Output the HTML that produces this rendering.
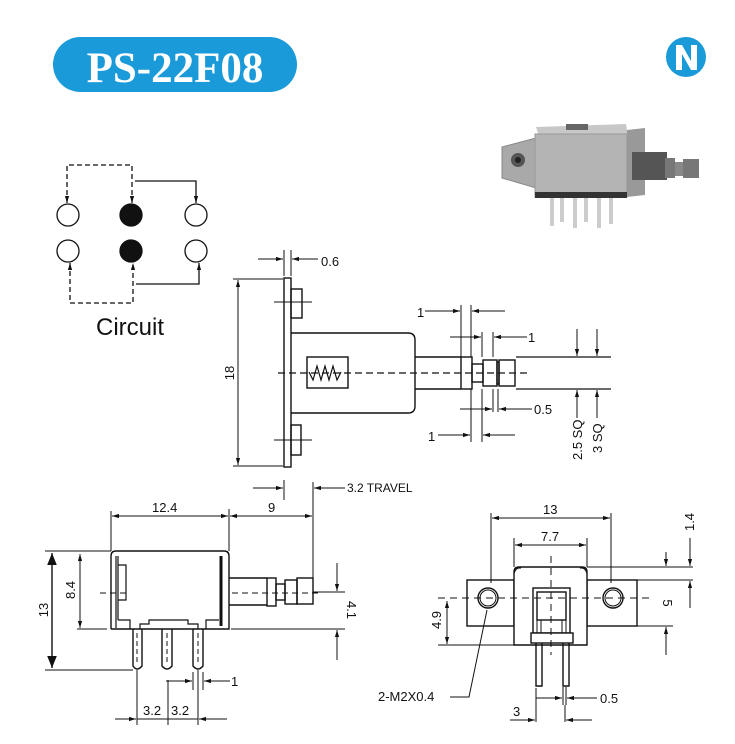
<!DOCTYPE html>
<html><head><meta charset="utf-8"><style>
html,body{margin:0;padding:0;background:#fff}
svg{display:block}
text{font-family:"Liberation Sans",sans-serif;fill:#111}
</style></head><body>
<svg width="735" height="744" viewBox="0 0 735 744" xmlns="http://www.w3.org/2000/svg">
<defs>
<marker id="a" viewBox="0 0 10 10" refX="10" refY="5" markerWidth="7" markerHeight="7" orient="auto-start-reverse" markerUnits="userSpaceOnUse"><path d="M0,2 L10,5 L0,8 z" fill="#111"/></marker>
<marker id="b" viewBox="0 0 10 10" refX="10" refY="5" markerWidth="12" markerHeight="12" orient="auto-start-reverse" markerUnits="userSpaceOnUse"><path d="M0,1 L10,5 L0,9 z" fill="#111"/></marker>
</defs>
<rect width="735" height="744" fill="#fff"/>
<!-- header -->
<rect x="53" y="37" width="244" height="55" rx="27.5" fill="#1a9ad8"/>
<text x="175" y="82" text-anchor="middle" style="font-family:'Liberation Serif',serif;font-weight:bold;font-size:43px;fill:#fff">PS-22F08</text>
<circle cx="686" cy="57" r="20" fill="#1a9ad8"/>
<path d="M676,70 V45 H682 L691,61 V45 H697 V70 H691 L682,54 V70 Z" fill="#fff"/>
<!-- photo -->
<g>
<path d="M502,147 L536,138 L536,188 L502,178 Z" fill="#a9a9a9" stroke="#888"/>
<circle cx="518" cy="160" r="7" fill="#555"/><circle cx="518" cy="160" r="3" fill="#222"/>
<path d="M536,127 L626,124 L628,135 L540,140 Z" fill="#c8c8c8"/>
<rect x="566" y="124" width="22" height="6" fill="#666"/>
<rect x="535" y="134" width="92" height="63" fill="#b4b4b4" stroke="#999"/>
<path d="M627,130 L645,128 L645,195 L627,197 Z" fill="#999"/>
<rect x="632" y="152" width="35" height="28" fill="#555"/>
<rect x="665" y="158" width="10" height="20" fill="#777"/>
<rect x="675" y="162" width="8" height="14" fill="#888"/>
<rect x="683" y="159" width="16" height="19" fill="#777"/>
<rect x="535" y="192" width="92" height="6" fill="#333"/>
<g fill="#ccc"><rect x="550" y="198" width="4" height="28"/><rect x="560" y="198" width="4" height="24"/><rect x="573" y="198" width="4" height="30"/><rect x="584" y="198" width="4" height="24"/><rect x="597" y="198" width="4" height="30"/><rect x="609" y="198" width="4" height="26"/></g>
</g>
<!-- circuit -->
<g stroke="#111" stroke-width="1.3" fill="none">
<circle cx="68" cy="215" r="11"/><circle cx="196" cy="215" r="11"/>
<circle cx="68" cy="251" r="11"/><circle cx="196" cy="251" r="11"/>
<circle cx="131" cy="215" r="11" fill="#111"/><circle cx="131" cy="251" r="11" fill="#111"/>
<path d="M67,203 V165 H132 V203" stroke-dasharray="5,3" marker-start="url(#a)" marker-end="url(#a)"/>
<path d="M135,181 H196 V203" marker-end="url(#a)"/>
<path d="M70,263 V303 H133 V263" stroke-dasharray="5,3" marker-start="url(#a)" marker-end="url(#a)"/>
<path d="M136,284 H199 V263" marker-end="url(#a)"/>
</g>
<text x="96" y="335" style="font-size:24px">Circuit</text>

<!-- side view -->
<g stroke="#111" stroke-width="1.4" fill="none">
<rect x="284" y="278" width="7" height="189"/>
<rect x="291" y="289" width="11" height="29"/>
<rect x="291" y="425" width="10" height="30"/>
<path d="M274,302 H312 M274,440 H312" stroke-width="1"/>
<path d="M291,333 H408 Q415,333 415,340 V406 Q415,413 408,413 H291"/>
<rect x="307" y="357" width="41" height="31"/>
<path d="M309,372 l4,8 l4,-14 l4,14 l4,-14 l4,14 l4,-14 l4,14 l4,-8" stroke-width="1.2"/>
<path d="M415,357 H461 M415,389 H461"/>
<rect x="461" y="357" width="11" height="32"/>
<rect x="472" y="364" width="11" height="18"/>
<rect x="483" y="360" width="14" height="26"/>
<rect x="497" y="362" width="2" height="22"/>
<rect x="499" y="360" width="16" height="26"/>
<path d="M516,357 H611 M516,389 H611" stroke-width="1.2"/>
<path d="M278,373 H528" stroke-dasharray="7,4" stroke-width="1.2"/>
<g stroke-width="1">
<path d="M284,250 V276 M291,250 V276"/>
<path d="M258,259 H283" marker-end="url(#a)"/><path d="M318,259 H292" marker-end="url(#a)"/>
<path d="M233,279 H283 M233,466 H283"/>
<path d="M238,280 V465" marker-start="url(#a)" marker-end="url(#a)"/>
<path d="M461,305 V357 M471,305 V357"/>
<path d="M425,311 H460" marker-end="url(#a)"/><path d="M505,311 H472" marker-end="url(#a)"/>
<path d="M482,332 V357 M493,332 V357"/>
<path d="M450,337 H481" marker-end="url(#a)"/><path d="M527,337 H494" marker-end="url(#a)"/>
<path d="M493,389 V412 M498,389 V412"/>
<path d="M460,409 H492" marker-end="url(#a)"/><path d="M532,409 H499" marker-end="url(#a)"/>
<path d="M471,389 V442 M482,389 V442"/>
<path d="M438,435 H470" marker-end="url(#a)"/><path d="M515,435 H483" marker-end="url(#a)"/>
<path d="M577,329 V356" marker-end="url(#a)"/><path d="M577,418 V390" marker-end="url(#a)"/>
<path d="M597,329 V356" marker-end="url(#a)"/><path d="M597,418 V390" marker-end="url(#a)"/>
</g>
</g>
<text x="321" y="266" style="font-size:13px">0.6</text>
<text transform="translate(234,373) rotate(-90)" text-anchor="middle" style="font-size:13px">18</text>
<text x="417" y="317" style="font-size:13px">1</text>
<text x="528" y="342" style="font-size:13px">1</text>
<text x="534" y="414" style="font-size:13px">0.5</text>
<text x="428" y="441" style="font-size:13px">1</text>
<text transform="translate(582,460) rotate(-90)" style="font-size:13px">2.5 SQ</text>
<text transform="translate(602,453) rotate(-90)" style="font-size:13px">3 SQ</text>

<!-- bottom-left front view -->
<g stroke="#111" stroke-width="1.4" fill="none">
<path d="M111,629 V556 Q111,551 116,551 H224 Q229,551 229,556 V629 H111"/>
<path d="M116,628 V556 M118,556 V620 M118,565 H126 V600 H118" stroke-width="1.2"/>
<path d="M221,556 V626" stroke-width="3"/>
<path d="M118,620 H130 V629 M140,629 V624 H149 V620 H188 V624 H198 V629 M206,629 V620 H219" stroke-width="1.2"/>
<path d="M133,629 V666 Q137,672 142,666 V629 M162,629 V666 Q167,672 172,666 V629 M193,629 V666 Q198,672 203,666 V629"/>
<path d="M137,633 V664 M167,633 V664 M198,633 V664" stroke-dasharray="5,3" stroke-width="1"/>
<path d="M229,578 H267 M229,605 H267"/>
<rect x="267" y="578" width="9" height="28"/>
<rect x="276" y="584" width="9" height="16"/>
<rect x="285" y="580" width="12" height="24"/>
<rect x="297" y="578" width="16" height="26"/>
<path d="M100,593 H130 M232,593 H320" stroke-dasharray="6,4" stroke-width="1.1"/>
<g stroke-width="1">
<path d="M111,511 V551 M229,509 V551 M313,482 V578 M284,480 V500"/>
<path d="M112,516 H228" marker-start="url(#a)" marker-end="url(#a)"/>
<path d="M230,516 H312" marker-start="url(#a)" marker-end="url(#a)"/>
<path d="M253,488 H283" marker-end="url(#a)"/><path d="M345,488 H314" marker-end="url(#a)"/>
<path d="M45,551 H111 M45,670 H133"/>
<path d="M52,553 V668" marker-start="url(#b)" marker-end="url(#b)" stroke-width="1.4"/>
<path d="M77,629 H107"/>
<path d="M80,554 V628" marker-start="url(#a)" marker-end="url(#a)"/>
<path d="M313,592 H345 M231,629 H345"/>
<path d="M337,563 V591" marker-end="url(#a)"/><path d="M337,660 V630" marker-end="url(#a)"/>
<path d="M137,670 V725 M168,680 V725 M198,670 V725 M193,672 V690 M203,672 V690"/>
<path d="M115,719 H136" marker-end="url(#a)"/><path d="M227,719 H199" marker-end="url(#a)"/>
<path d="M137,719 H198"/>
<path d="M166,681 H192" marker-end="url(#a)"/><path d="M230,681 H204" marker-end="url(#a)"/>
</g>
</g>
<text x="152" y="512" style="font-size:13px">12.4</text>
<text x="268" y="512" style="font-size:13px">9</text>
<text x="347" y="492" style="font-size:12px">3.2 TRAVEL</text>
<text transform="translate(48,610) rotate(-90)" text-anchor="middle" style="font-size:13px">13</text>
<text transform="translate(75,590) rotate(-90)" text-anchor="middle" style="font-size:13px">8.4</text>
<text transform="translate(347,610) rotate(90)" text-anchor="middle" style="font-size:13px">4.1</text>
<text x="143" y="715" style="font-size:13px">3.2</text>
<text x="171" y="715" style="font-size:13px">3.2</text>
<text x="231" y="686" style="font-size:13px">1</text>

<!-- bottom-right view -->
<g stroke="#111" stroke-width="1.4" fill="none">
<rect x="467" y="580" width="47" height="46"/>
<rect x="587" y="580" width="50" height="46"/>
<path d="M514,645 V572 Q514,567 519,567 H582 Q587,567 587,572 V645 Z" fill="#fff"/>
<path d="M514,573 Q516,567 521,568 M587,573 Q585,567 580,568" stroke-width="1.2"/>
<circle cx="488" cy="598" r="10"/><circle cx="488" cy="598" r="8" stroke-width="1"/>
<circle cx="613" cy="598" r="10"/><circle cx="613" cy="598" r="8" stroke-width="1"/>
<rect x="533" y="588" width="37" height="45"/>
<rect x="537" y="592" width="29" height="28"/>
<path d="M537,620 V633 M541,620 V633 M562,620 V633 M566,620 V633" stroke-width="1"/>
<rect x="531" y="633" width="42" height="10" fill="#fff"/>
<path d="M536,643 V686 H542 V643 M563,643 V686 H569 V643"/>
<path d="M438,598 H650 M551,556 V655" stroke-dasharray="7,5" stroke-width="1"/>
<g stroke-width="1">
<path d="M491,513 V583 M611,513 V583 M514,538 V567 M587,538 V567"/>
<path d="M492,518 H610" marker-start="url(#a)" marker-end="url(#a)"/>
<path d="M515,545 H586" marker-start="url(#a)" marker-end="url(#a)"/>
<path d="M587,567 H693 M637,580 H693 M637,626 H673"/>
<path d="M666,552 V566" marker-end="url(#a)"/><path d="M666,655 V627" marker-end="url(#a)"/>
<path d="M690,538 V566" marker-end="url(#a)"/><path d="M690,608 V581" marker-end="url(#a)"/>
<path d="M438,645 H514"/>
<path d="M447,601 V644" marker-start="url(#a)" marker-end="url(#a)"/>
<path d="M487,610 L469,697 H450" />
<path d="M563,687 V705 M566,687 V705 M536,688 V722 M565,705 V722"/>
<path d="M536,698 H562" marker-end="url(#a)"/><path d="M597,698 H567" marker-end="url(#a)"/>
<path d="M510,720 H535" marker-end="url(#a)"/><path d="M592,720 H566" marker-end="url(#a)"/>
</g>
</g>
<text x="543" y="514" style="font-size:13px">13</text>
<text x="541" y="541" style="font-size:13px">7.7</text>
<text transform="translate(694,522) rotate(-90)" text-anchor="middle" style="font-size:13px">1.4</text>
<text transform="translate(663,603) rotate(90)" text-anchor="middle" style="font-size:13px">5</text>
<text transform="translate(441,620) rotate(-90)" text-anchor="middle" style="font-size:13px">4.9</text>
<text x="378" y="701" style="font-size:13px">2-M2X0.4</text>
<text x="600" y="703" style="font-size:13px">0.5</text>
<text x="513" y="716" style="font-size:13px">3</text>
</svg>
</body></html>
